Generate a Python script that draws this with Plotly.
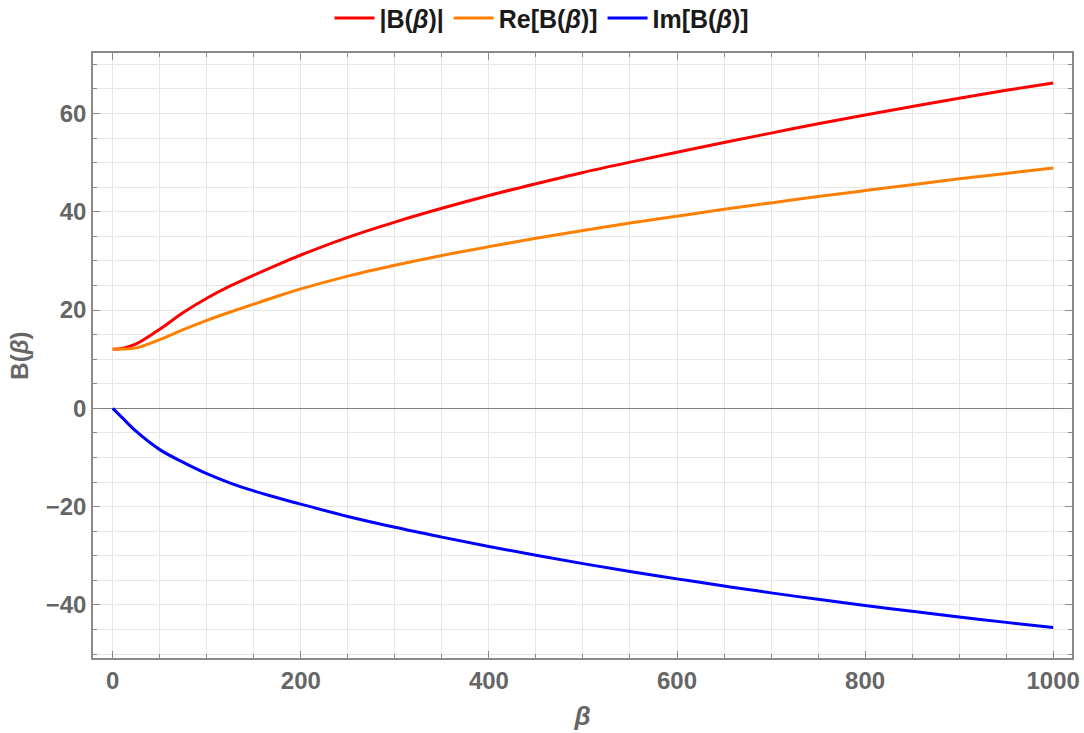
import plotly.graph_objects as go

beta = [0, 10, 25, 50, 75, 100, 125, 150, 175, 200, 250, 300, 350, 400, 450, 500,
        550, 600, 650, 700, 750, 800, 850, 900, 950, 1000]
abs_b = [12.0, 12.2, 13.1, 16.1, 19.5, 22.4, 24.9, 27.1, 29.2, 31.2, 34.8, 37.9, 40.7,
         43.3, 45.7, 48.0, 50.1, 52.1, 54.1, 56.0, 57.9, 59.7, 61.4, 63.1, 64.7, 66.2]
re_b = [12.0, 12.05, 12.3, 14.0, 16.0, 17.9, 19.6, 21.2, 22.8, 24.3, 26.9, 29.1, 31.1,
        32.9, 34.6, 36.2, 37.7, 39.1, 40.5, 41.8, 43.1, 44.3, 45.5, 46.7, 47.8, 48.9]
im_b = [0.0, -1.9, -4.7, -8.4, -11.0, -13.3, -15.2, -16.8, -18.2, -19.5, -22.0, -24.2,
        -26.2, -28.1, -29.9, -31.6, -33.2, -34.7, -36.15, -37.55, -38.85, -40.1, -41.3,
        -42.45, -43.55, -44.6]

names = ["|B(<i>β</i>)|", "Re[B(<i>β</i>)]", "Im[B(<i>β</i>)]"]
colors = ["#ff0000", "#ff8000", "#0000ff"]

fig = go.Figure()
for ys, nm, c in zip([abs_b, re_b, im_b], names, colors):
    fig.add_trace(go.Scatter(x=beta, y=ys, mode="lines", name=nm,
                             line=dict(color=c, width=3, shape="spline", smoothing=1.0)))

tickfont = dict(family="Liberation Sans, Arial", size=24, color="#666666", weight="bold")
gridc = "#e6e6e6"
framec = "#8a8a8a"

fig.update_layout(
    width=1084, height=733,
    margin=dict(l=93, r=12, t=53, b=75),
    paper_bgcolor="white", plot_bgcolor="white",
    legend=dict(orientation="h", xref="container", x=0.5, xanchor="center",
                yref="container", y=0.975, yanchor="middle",
                bgcolor="rgba(0,0,0,0)",
                font=dict(family="Liberation Sans, Arial", size=25, color="#1a1a1a", weight="bold"),
                itemwidth=40, traceorder="normal"),
    xaxis=dict(range=[-21, 1020], tickvals=[0, 200, 400, 600, 800, 1000], automargin=False,
               showgrid=True, gridcolor=gridc, gridwidth=1,
               minor=dict(dtick=50, tick0=0, showgrid=True, gridcolor=gridc, ticks="inside",
                          ticklen=4, tickcolor=framec),
               ticks="inside", ticklen=7, tickcolor=framec,
               showline=True, linecolor=framec, linewidth=1.5, mirror="allticks",
               zeroline=False, tickfont=tickfont,
               title=dict(text="<i>β</i>", font=dict(family="Liberation Sans, Arial", size=26,
                                                      color="#666666", weight="bold"), standoff=14)),
    yaxis=dict(range=[-50.8, 72.3], tickvals=[-40, -20, 0, 20, 40, 60], automargin=False,
               showgrid=True, gridcolor=gridc, gridwidth=1,
               minor=dict(dtick=5, tick0=0, showgrid=True, gridcolor=gridc, ticks="inside",
                          ticklen=4, tickcolor=framec),
               ticks="inside", ticklen=7, tickcolor=framec,
               showline=True, linecolor=framec, linewidth=1.5, mirror="allticks",
               zeroline=True, zerolinecolor="#808080", zerolinewidth=1.2,
               tickfont=tickfont,
               title=dict(text="B(<i>β</i>)", font=dict(family="Liberation Sans, Arial", size=24,
                                                         color="#666666", weight="bold"), standoff=10)),
)

fig.write_html("out.html")
